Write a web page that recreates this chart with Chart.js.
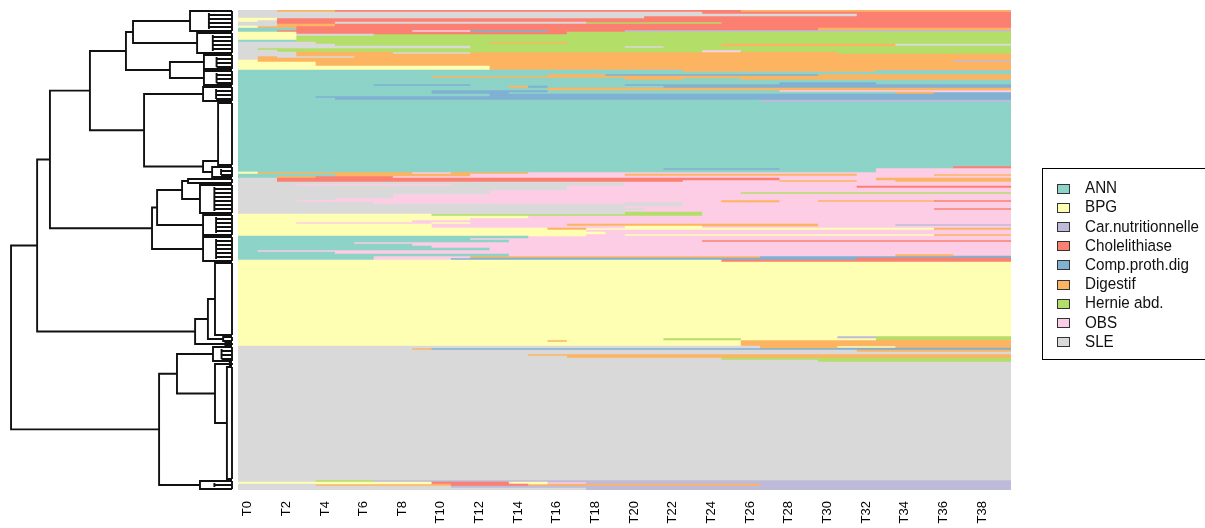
<!DOCTYPE html>
<html>
<head>
<meta charset="utf-8">
<script src="https://cdn.jsdelivr.net/npm/chart.js@4.4.1/dist/chart.umd.min.js"></script>
<style>
html, body { margin: 0; padding: 0; background: #fff; }
#wrap { position: relative; width: 1205px; height: 528px; }
#seq, #tree { position: absolute; left: 0; top: 0; }
</style>
</head>
<body>
<div id="wrap">
  <canvas id="seq" width="1205" height="528"></canvas>
  <canvas id="tree" width="236" height="528"></canvas>
</div>
<script>
'use strict'

// states of the alphabet, legend text and Set3 colours
const states = ['ANN', 'BPG', 'CAR', 'CHO', 'COM', 'DIG', 'HER', 'OBS', 'SLE'];
const stateLabels = ['ANN', 'BPG', 'Car.nutritionnelle', 'Cholelithiase', 'Comp.proth.dig', 'Digestif', 'Hernie abd.', 'OBS', 'SLE'];
const stateColors = ['#8DD3C7', '#FFFFB3', '#BEBADA', '#FB8072', '#80B1D3', '#FDB462', '#B3DE69', '#FCCDE5', '#D9D9D9'];

// time points (columns)
const columns = ['T0', 'T1', 'T2', 'T3', 'T4', 'T5', 'T6', 'T7', 'T8', 'T9',
  'T10', 'T11', 'T12', 'T13', 'T14', 'T15', 'T16', 'T17', 'T18', 'T19',
  'T20', 'T21', 'T22', 'T23', 'T24', 'T25', 'T26', 'T27', 'T28', 'T29',
  'T30', 'T31', 'T32', 'T33', 'T34', 'T35', 'T36', 'T37', 'T38', 'T39'];
const tickLabels = ['T0', 'T2', 'T4', 'T6', 'T8', 'T10', 'T12', 'T14', 'T16', 'T18',
  'T20', 'T22', 'T24', 'T26', 'T28', 'T30', 'T32', 'T34', 'T36', 'T38'];

// sequences, top to bottom: [number of rows, "state endColumn, ..."]
const rowBlocks = [
  [1, 'SLE 2,DIG 5,CHO 26,DIG 40'],
  [1, 'SLE 24,CHO 40'],
  [1, 'SLE 32,CHO 40'],
  [1, 'SLE 21,CHO 40'],
  [1, 'BPG 2,CHO 40'],
  [1, 'BPG 1,SLE 2,CHO 40'],
  [1, 'SLE 2,CHO 5,SLE 18,HER 25,CHO 40'],
  [1, 'SLE 2,DIG 5,CHO 40'],
  [1, 'BPG 1,DIG 3,CHO 40'],
  [1, 'ANN 3,CHO 30,DIG 40'],
  [1, 'ANN 2,CHO 9,OBS 12,COM 16,CHO 20,CAR 40'],
  [1, 'BPG 3,CHO 17,HER 40'],
  [1, 'BPG 3,SLE 7,HER 40'],
  [2, 'BPG 3,HER 40'],
  [1, 'ANN 3,HER 40'],
  [1, 'SLE 4,HER 13,DIG 17,HER 40'],
  [1, 'SLE 5,HER 25,DIG 34,SLE 40'],
  [1, 'SLE 12,HER 20,SLE 22,HER 40'],
  [1, 'SLE 1,HER 40'],
  [1, 'SLE 2,HER 24,OBS 26,HER 40'],
  [1, 'SLE 3,DIG 8,SLE 12,DIG 31,HER 40'],
  [1, 'SLE 3,DIG 40'],
  [1, 'SLE 1,DIG 2,SLE 6,DIG 40'],
  [1, 'SLE 1,DIG 40'],
  [1, 'BPG 1,DIG 37,CAR 40'],
  [2, 'BPG 4,DIG 40'],
  [2, 'BPG 13,DIG 40'],
  [1, 'ANN 23,DIG 33,ANN 40'],
  [1, 'ANN 40'],
  [1, 'ANN 16,DIG 19,COM 30,DIG 40'],
  [1, 'ANN 10,DIG 40'],
  [1, 'ANN 20,DIG 23,ANN 26,DIG 40'],
  [1, 'ANN 40'],
  [1, 'ANN 28,COM 33,ANN 40'],
  [1, 'ANN 7,COM 12,ANN 20,COM 40'],
  [1, 'ANN 14,DIG 15,COM 16,ANN 22,COM 40'],
  [1, 'ANN 16,DIG 40'],
  [1, 'ANN 10,COM 16,ANN 28,OBS 40'],
  [1, 'ANN 10,COM 14,ANN 34,DIG 36,COM 40'],
  [1, 'ANN 13,COM 40'],
  [1, 'ANN 4,COM 40'],
  [1, 'ANN 5,COM 40'],
  [1, 'ANN 27,CAR 40'],
  [32, 'ANN 40'],
  [1, 'ANN 37,CHO 40'],
  [1, 'ANN 22,COM 28,ANN 33,OBS 40'],
  [1, 'ANN 33,OBS 40'],
  [1, 'BPG 1,DIG 9,OBS 11,DIG 15,OBS 40'],
  [1, 'ANN 5,DIG 12,OBS 20,DIG 32,OBS 36,DIG 40'],
  [1, 'ANN 2,DIG 4,CHO 8,OBS 40'],
  [1, 'SLE 2,CHO 28,OBS 33,DIG 40'],
  [1, 'SLE 2,CHO 23,OBS 28,DIG 32,OBS 34,DIG 40'],
  [1, 'SLE 20,OBS 40'],
  [1, 'SLE 3,OBS 11,SLE 20,OBS 40'],
  [1, 'SLE 17,OBS 32,CHO 40'],
  [1, 'SLE 17,OBS 40'],
  [1, 'SLE 13,OBS 40'],
  [1, 'SLE 13,OBS 26,HER 40'],
  [2, 'SLE 8,OBS 40'],
  [1, 'SLE 5,OBS 40'],
  [1, 'SLE 3,OBS 25,DIG 28,OBS 30,DIG 36,CHO 40'],
  [1, 'SLE 7,OBS 20,SLE 23,OBS 40'],
  [1, 'SLE 23,OBS 40'],
  [1, 'SLE 20,OBS 40'],
  [1, 'SLE 21,OBS 36,CHO 40'],
  [1, 'SLE 20,OBS 40'],
  [1, 'SLE 20,HER 24,OBS 40'],
  [1, 'BPG 10,HER 24,OBS 40'],
  [1, 'BPG 15,OBS 40'],
  [1, 'BPG 12,OBS 40'],
  [1, 'BPG 9,OBS 40'],
  [1, 'BPG 3,OBS 10,BPG 12,OBS 40'],
  [1, 'BPG 10,OBS 17,DIG 30,OBS 34,CAR 40'],
  [1, 'BPG 10,OBS 20,BPG 24,OBS 40'],
  [1, 'BPG 16,DIG 18,BPG 36,DIG 40'],
  [1, 'BPG 18,OBS 40'],
  [1, 'BPG 19,OBS 40'],
  [1, 'BPG 18,OBS 20,BPG 36,DIG 40'],
  [1, 'ANN 15,OBS 40'],
  [1, 'ANN 12,OBS 40'],
  [1, 'ANN 14,OBS 24,CHO 40'],
  [1, 'ANN 6,OBS 40'],
  [1, 'ANN 9,OBS 40'],
  [1, 'ANN 10,OBS 40'],
  [1, 'ANN 13,OBS 40'],
  [1, 'ANN 1,OBS 40'],
  [1, 'ANN 5,OBS 40'],
  [1, 'ANN 14,OBS 34,DIG 37,OBS 40'],
  [1, 'ANN 7,OBS 12,DIG 27,COM 40'],
  [1, 'ANN 7,OBS 11,COM 32,CHO 40'],
  [1, 'BPG 25,CHO 40'],
  [37, 'BPG 40'],
  [1, 'BPG 31,CAR 33,HER 40'],
  [1, 'BPG 22,HER 26,BPG 33,HER 40'],
  [1, 'BPG 16,DIG 17,BPG 26,DIG 40'],
  [2, 'BPG 26,DIG 40'],
  [1, 'SLE 27,DIG 31,BPG 34,DIG 40'],
  [1, 'SLE 9,DIG 10,COM 40'],
  [1, 'SLE 32,DIG 40'],
  [1, 'SLE 40'],
  [1, 'SLE 15,DIG 40'],
  [1, 'SLE 17,DIG 40'],
  [1, 'SLE 25,HER 40'],
  [1, 'SLE 30,HER 40'],
  [59, 'SLE 40'],
  [1, 'SLE 4,HER 7,CAR 40'],
  [1, 'BPG 10,CHO 14,BPG 16,OBS 18,CAR 40'],
  [1, 'SLE 4,DIG 11,CHO 15,DIG 27,CAR 40'],
  [1, 'SLE 11,CAR 40'],
  [1, 'SLE 18,CAR 40']
];

// dendrogram: [height, left, right]; 'L' = mixed leaf group [from, to, height],
// 'B' = block of identical sequences [from, to, height, attach row]
const tree =
  [100,
    [88.2,
      [82.4,
        [64.3,
          [48,
            [44.8, ['L', 0, 11, 19], ['L', 11, 22, 15.8]],
            [28.1, ['L', 22, 30, 12.7], ['L', 30, 38, 12.7]]],
          [39.8,
            ['L', 38, 46, 13.1],
            [13.1, ['B', 46, 78, 6.3, 75], ['L', 78, 84, 9]]]],
        [36.2,
          [33.9,
            [22.6, ['L', 84, 87, 19.9], ['L', 87, 102, 14.5]],
            ['L', 102, 113, 13.1]],
          ['L', 113, 126, 13.1]]],
      [16.7,
        [10.9, ['B', 126, 163, 7.7], ['L', 163, 166, 4]],
        ['L', 166, 168, 3]]],
    [33,
      [24.9, ['L', 168, 176, 8.6], [7.7, ['B', 176, 178, 1], ['B', 178, 235, 2.3, 206]]],
      ['L', 235, 240, 14.5]]];

// ---- sequence index plot ----
let rows = [];
rowBlocks.forEach(([n, spec]) => {
  let runs = spec.split(',').map(s => {
    let parts = s.trim().split(' ');
    return { st: parts[0], end: +parts[1] };
  });
  for (let k = 0; k < n; k++) rows.push(runs);
});

let maxRuns = Math.max(...rows.map(r => r.length));
let seqSets = [];
for (let k = 0; k < maxRuns; k++) {
  seqSets.push({
    data: rows.map(r => r[k] ? r[k].end - (k ? r[k - 1].end : 0) : 0),
    backgroundColor: rows.map(r => r[k] ? stateColors[states.indexOf(r[k].st)] : 'rgba(0,0,0,0)'),
    borderWidth: 0,
    barPercentage: 1,
    categoryPercentage: 1
  });
}

const legendBox = {
  id: 'legendBox',
  afterDraw(chart) {
    let ctx = chart.ctx;
    ctx.save();
    ctx.lineWidth = 1;
    ctx.strokeStyle = '#000';
    ctx.strokeRect(1042.5, 168.5, 200, 191);
    ctx.font = '16px "Liberation Sans", Arial, sans-serif';
    ctx.textBaseline = 'middle';
    for (let i = 0; i < stateLabels.length; i++) {
      let y = 188.5 + i * 19.2;
      ctx.fillStyle = stateColors[i];
      ctx.fillRect(1057.5, Math.round(y) - 4.5, 12, 9);
      ctx.strokeStyle = '#333';
      ctx.strokeRect(1057.5, Math.round(y) - 4.5, 12, 9);
      ctx.save();
      ctx.translate(1085, y);
      ctx.scale(0.95, 1.06);
      ctx.fillStyle = '#111';
      ctx.fillText(stateLabels[i], 0, 0);
      ctx.restore();
    }
    ctx.restore();
  }
};

new Chart(document.getElementById('seq'), {
  type: 'bar',
  data: { labels: rows.map((r, i) => i), datasets: seqSets },
  options: {
    indexAxis: 'y',
    responsive: false,
    animation: false,
    events: [],
    plugins: { legend: { display: false }, tooltip: { enabled: false } },
    layout: { padding: { left: 238, right: 194, top: 10, bottom: 0 } },
    scales: {
      x: {
        type: 'linear',
        stacked: true,
        min: 0,
        max: columns.length,
        grid: { display: false },
        border: { display: false },
        afterBuildTicks: axis => {
          axis.ticks = tickLabels.map(t => ({ value: columns.indexOf(t) + 0.5 }));
        },
        afterFit: axis => { axis.height = 38; },
        ticks: {
          autoSkip: false,
          minRotation: 90,
          maxRotation: 90,
          padding: 3,
          color: '#000',
          font: { family: '"Liberation Sans", Arial, sans-serif', size: 13 },
          callback: v => columns[Math.floor(v)]
        }
      },
      y: { stacked: true, display: false }
    }
  },
  plugins: [legendBox]
});

// ---- dendrogram ----
let treePts = [];
function seg(pts) {
  pts.forEach(p => treePts.push({ x: p[0], y: p[1] }));
  treePts.push({ x: 0, y: null });
}
function walk(node) {
  if (node[0] === 'L' || node[0] === 'B') {
    let a = node[1], b = node[2], h = node[3];
    let top = a + 0.5, bot = b - 0.5;
    if (node[0] === 'L') {
      // dense fringe of small merges inside a mixed group
      for (let i = a + 2; i < b - 1; i += 2) seg([[0, i + 0.5], [h * 0.55, i + 0.5]]);
      seg([[h * 0.55, top + 1], [h * 0.55, bot - 1]]);
    }
    seg([[0, top], [h, top], [h, bot], [0, bot]]);
    seg([[0, top], [0, bot]]);
    let pos = node[4] !== undefined ? node[4] + 0.5 : (a + b) / 2;
    return { pos: pos, h: h };
  }
  let l = walk(node[1]);
  let r = walk(node[2]);
  seg([[l.h, l.pos], [node[0], l.pos], [node[0], r.pos], [r.h, r.pos]]);
  return { pos: (l.pos + r.pos) / 2, h: node[0] };
}
walk(tree);

new Chart(document.getElementById('tree'), {
  type: 'line',
  data: {
    datasets: [{
      data: treePts,
      borderColor: '#111',
      borderWidth: 1.9,
      pointRadius: 0,
      tension: 0,
      spanGaps: false,
      clip: false
    }]
  },
  options: {
    responsive: false,
    animation: false,
    events: [],
    plugins: { legend: { display: false }, tooltip: { enabled: false } },
    layout: { padding: { left: 0, right: 4, top: 10, bottom: 38 } },
    scales: {
      x: { type: 'linear', reverse: true, min: 0, max: 105, display: false },
      y: { type: 'linear', reverse: true, min: 0, max: rows.length, display: false }
    }
  }
});
</script>
</body>
</html>
